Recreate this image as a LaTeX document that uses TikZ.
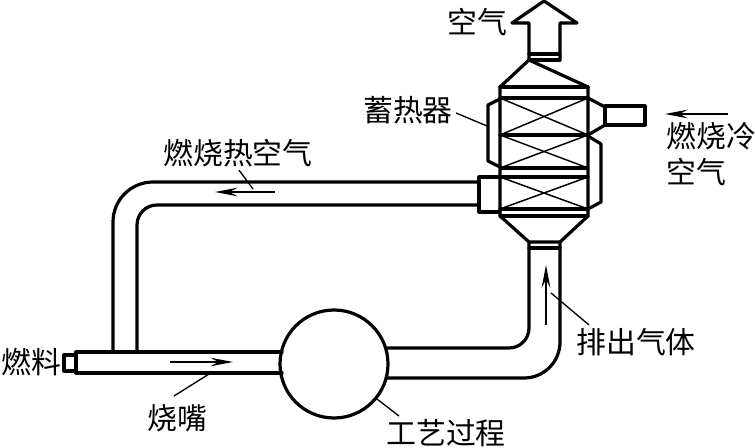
\documentclass[tikz,border=0pt]{standalone}
\usepackage{fontspec}
\setmainfont{Noto Sans CJK SC}
\usetikzlibrary{arrows.meta}
\tikzset{
  x=0.75pt,y=-0.75pt,
  wall/.style={line width=2.4pt,line join=round,line cap=round},
  web/.style={line width=1.1pt},
  leader/.style={line width=1pt},
  flow/.style={line width=1pt,-{Stealth[length=17pt,width=6.5pt,inset=6pt]}},
  lab/.style={inner sep=0pt,font=\fontsize{22.4pt}{24pt}\selectfont}
}
\begin{document}
\begin{tikzpicture}
\useasboundingbox (0,0) rectangle (755,448);
% labels
\node[lab] (lAir) at (477,22) {空气};
\node[lab] (lReg) at (408,110) {蓄热器};
\node[lab] (lHot) at (238,153) {燃烧热空气};
\node[lab,anchor=west] (lCold) at (666,136) {燃烧冷};
\node[lab,anchor=west] (lCold2) at (666,172) {空气};
\node[lab] (lFuel) at (31,362) {燃料};
\node[lab] (lBurn) at (177,418) {烧嘴};
\node[lab] (lProc) at (446,433) {工艺过程};
\node[lab] (lExh) at (636,342) {排出气体};
% process vessel
\node[circle,draw,line width=2.4pt,minimum size=81pt,inner sep=0pt] (proc) at (334,364) {};
% exit arrow
\draw[wall] (529,60) -- (529,23) -- (512,23) -- (544,1) -- (577,23) -- (560,23) -- (560,60);
\draw[wall] (529,54) -- (560,54);
\draw[wall] (529,60) -- (560,60);
% regenerator body
\draw[wall] (529,60) -- (500,87) -- (500,216) -- (529,242) -- (560,242) -- (588,216) -- (588,87) -- cycle;
\foreach \y in {87,98,135,177,209,216}{\draw[wall] (500,\y) -- (588,\y);}
\draw[line width=3.2pt] (500,168) -- (588,168);
\draw[wall] (529,248) -- (560,248);
% bed crosses
\foreach \a/\b in {98/135,135/168,177/209}{
  \draw[web] (500,\a) -- (588,\b);
  \draw[web] (500,\b) -- (588,\a);
}
% side bumps
\draw[wall] (500,99) -- (488,105) -- (488,161) -- (500,167);
\draw[wall] (588,136) -- (601,144) -- (601,202) -- (588,209);
% right nozzle
\draw[wall] (588,98) -- (605,107) -- (605,125) -- (588,135);
\draw[wall] (605,106) rectangle (645,125);
% left nozzle
\draw[wall] (500,177) -- (479,177) -- (479,212) -- (500,212);
% hot air pipe
\draw[wall,rounded corners=30pt] (479,182) -- (113,182) -- (113,352);
\draw[wall,rounded corners=15pt] (479,205) -- (137,205) -- (137,352);
% burner
\draw[wall] (64,355) rectangle (76,371);
\draw[wall] (282,352) -- (76,352) -- (76,373) -- (282,373);
% exhaust pipe
\draw[wall,rounded corners=15pt] (529,242) -- (529,348) -- (386,348);
\draw[wall,rounded corners=27pt] (560,242) -- (560,378) -- (386,378);
% flow arrows
\draw[flow] (275,192) -- (215,192);
\draw[flow] (170,362) -- (233,362);
\draw[flow] (546,325) -- (546,265);
\draw[flow] (728,114) -- (665,114);
% leaders
\coordinate (a1) at (487,126);
\coordinate (a2) at (253,189);
\coordinate (a3) at (209,374);
\coordinate (a4) at (377,399);
\coordinate (a5) at (551,293);
\draw[leader] (lReg.east) ++(3,3) -- (a1);
\draw[leader] (lHot.south) ++(1,3) -- (a2);
\draw[leader] (lBurn.north) ++(-3,-8) -- (a3);
\draw[leader] (lProc.north) ++(-47,-3) -- (a4);
\draw[leader] (lExh.north west) ++(13,-3) -- (a5);
\end{tikzpicture}
\end{document}
